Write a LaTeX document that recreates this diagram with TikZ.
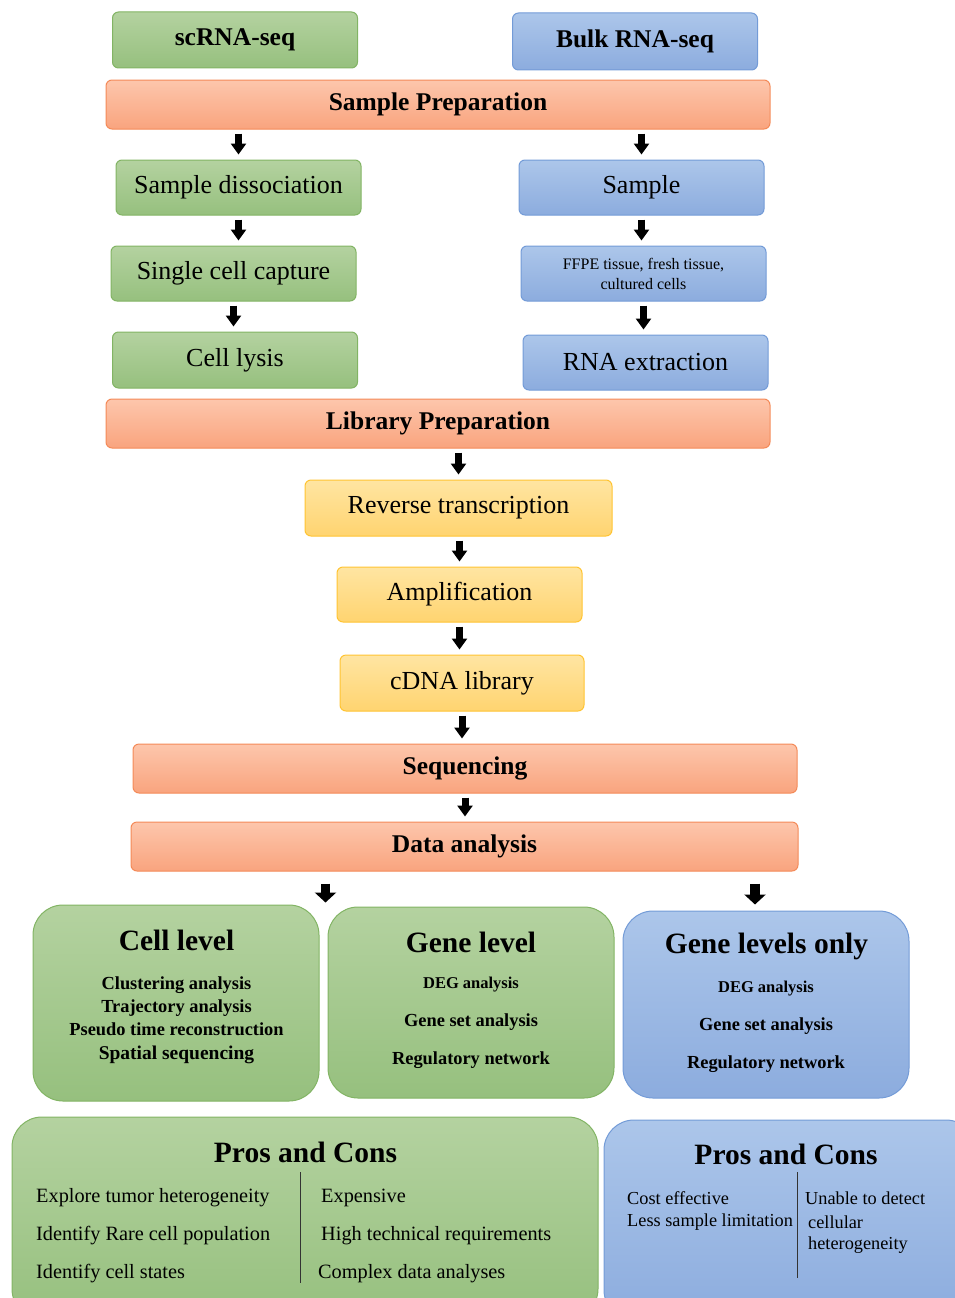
\documentclass[tikz,border=0pt]{standalone}
\usepackage{fontspec}
\setmainfont{Liberation Serif}
\usetikzlibrary{arrows.meta,positioning}

\definecolor{grtop}{RGB}{180,210,160}
\definecolor{grbot}{RGB}{150,192,126}
\definecolor{grline}{RGB}{130,180,100}
\definecolor{bltop}{RGB}{172,198,234}
\definecolor{blbot}{RGB}{140,172,222}
\definecolor{blline}{RGB}{115,155,215}
\definecolor{ortop}{RGB}{253,198,172}
\definecolor{orbot}{RGB}{249,164,126}
\definecolor{orline}{RGB}{244,138,88}
\definecolor{yetop}{RGB}{255,229,162}
\definecolor{yebot}{RGB}{255,212,112}
\definecolor{yeline}{RGB}{255,196,50}

\begin{document}
\begin{tikzpicture}[
  x=1pt,
  y=-1pt,
  box/.style={rounded corners=6pt, line width=1pt, align=center, inner sep=0pt,
    font=\fontsize{26}{30}\selectfont},
  scbox/.style={box, draw=grline, top color=grtop, bottom color=grbot,
    minimum width=245pt, minimum height=56pt},
  bkbox/.style={box, draw=blline, top color=bltop, bottom color=blbot,
    minimum width=245pt, minimum height=56pt},
  ybox/.style={box, draw=yeline, top color=yetop, bottom color=yebot,
    minimum width=245pt, minimum height=56pt},
  stage/.style={box, draw=orline, top color=ortop, bottom color=orbot,
    minimum width=664pt, minimum height=49pt, font=\bfseries\fontsize{25.5}{30}\selectfont},
  bigsc/.style={scbox, rounded corners=30pt, minimum width=286pt},
  bigbk/.style={bkbox, rounded corners=30pt, minimum width=286pt},
  head/.style={font=\bfseries\fontsize{29.5}{34}\selectfont},
  item/.style={font=\bfseries\fontsize{18.4}{23.3}\selectfont, align=center},
  small/.style={font=\bfseries\fontsize{16.5}{20}\selectfont},
  pro/.style={anchor=west, inner sep=0pt, font=\fontsize{20.3}{24}\selectfont},
  probk/.style={anchor=west, inner sep=0pt, font=\fontsize{18.3}{22}\selectfont},
  split/.style={line width=0.9pt, black!80},
  blk/.style={line width=7pt, -{Triangle[width=15pt,length=11pt]},
    shorten <=4pt, shorten >=5pt},
  bigblk/.style={line width=9.5pt, -{Triangle[width=21pt,length=10pt]},
    shorten <=12pt, shorten >=2pt}
]
\useasboundingbox (0,0) rectangle (955,1298);
\clip (0,0) rectangle (955,1298);

% top row
\node[scbox, font=\bfseries\fontsize{25.5}{30}\selectfont] (sc) at (235,40) {scRNA-seq};
\node[bkbox, font=\bfseries\fontsize{25.5}{30}\selectfont, minimum height=57pt] (bulk) at (635,41.5) {Bulk RNA-seq};
\node[stage] (sp) at (438,104.5) {Sample Preparation};

% scRNA-seq branch
\node[scbox, minimum height=55pt] (sd) at (238.5,187.5) {Sample dissociation};
\node[scbox, minimum height=55pt] (scc) at (233.5,273.5) {Single cell capture};
\node[scbox] (lys) at (235,360) {Cell lysis};

% bulk branch
\node[bkbox, minimum height=55pt] (smp) at (641.5,187.5) {Sample};
\node[bkbox, minimum height=55pt, font=\fontsize{16}{20}\selectfont] (ffpe) at (643.5,273.5)
  {FFPE tissue, fresh tissue,\\cultured cells};
\node[bkbox, minimum height=55pt] (rna) at (645.5,362.5) {RNA extraction};

\draw[blk] (sd.north |- sp.south) -- (sd.north);
\draw[blk] (smp.north |- sp.south) -- (smp.north);
\draw[blk] (sd.south) -- (sd.south |- scc.north);
\draw[blk] (smp.south) -- (smp.south |- ffpe.north);
\draw[blk] (scc.south) -- (scc.south |- lys.north);
\draw[blk] (ffpe.south) -- (ffpe.south |- rna.north);

% library
\node[stage] (lp) at (438,423.5) {Library Preparation};
\node[ybox, minimum width=307pt] (rt) at (458.5,508) {Reverse transcription};
\node[ybox, minimum height=55pt] (amp) at (459.5,594.5) {Amplification};
\node[ybox, minimum width=244pt] (cdna) at (462,683) {cDNA library};
\node[stage] (seq) at (465,768.5) {Sequencing};
\node[stage, minimum width=667pt] (da) at (464.5,846.5) {Data analysis};

\draw[blk] (rt.north |- lp.south) -- (rt.north);
\draw[blk] (amp.north |- rt.south) -- (amp.north);
\draw[blk] (amp.south) -- (amp.south |- cdna.north);
\draw[blk] (cdna.south) -- (cdna.south |- seq.north);
\draw[blk] (seq.south) -- (seq.south |- da.north);

% levels
\node[bigsc, minimum height=196pt] (cl) at (176,1003) {};
\node[bigsc, minimum height=191pt] (gl) at (471,1002.5) {};
\node[bigbk, minimum height=187pt] (go) at (766,1004.5) {};

\draw[bigblk] ([xshift=6pt]cl.north east |- da.south) -- ([xshift=6pt]cl.north east);
\draw[bigblk, shorten >=6pt] ([xshift=-11pt]go.north |- da.south) -- ([xshift=-11pt]go.north);

\node[head] (clt) at (176.5,940) {Cell level};
\node[item] (cli) at (176.5,1020) {Clustering analysis\\Trajectory analysis\\Pseudo time reconstruction\\{\fontsize{19.5}{23}\selectfont Spatial sequencing}};

\node[head] (glt) at (471,942) {Gene level};
\node[small] (gl1) at (471,985) {DEG analysis};
\node[item] (gl2) at (471,1022) {Gene set analysis};
\node[item] (gl3) at (471,1060) {Regulatory network};

\node[head] (got) at (766.5,946) {Gene levels only};
\node[small] (go1) at (766,989) {DEG analysis};
\node[item] (go2) at (766,1026) {Gene set analysis};
\node[item] (go3) at (766,1064) {Regulatory network};

% pros and cons
\node[bigsc, minimum width=586pt, minimum height=202pt] (pcs) at (305,1218) {};
\node[bigbk, minimum width=372pt, minimum height=200pt] (pcb) at (790,1220) {};

\node[head] (pcst) at (305.5,1152) {Pros and Cons};
\node[pro] (pl1) at (36,1198) {Explore tumor heterogeneity};
\node[pro] (pl2) at (36,1236) {Identify Rare cell population};
\node[pro] (pl3) at (36,1274) {Identify cell states};
\draw[split] (300,1172) -- (300,1283);
\node[pro] (pr1) at (321,1198) {Expensive};
\node[pro] (pr2) at (321,1236) {High technical requirements};
\node[pro] (pr3) at (318,1274) {Complex data analyses};

\node[head] (pcbt) at (786,1154) {Pros and Cons};
\node[probk] (bl1) at (627,1198) {Cost effective};
\node[probk] (bl2) at (627,1222) {Less sample limitation};
\draw[split] (797,1172) -- (797,1278);
\node[probk] (br1) at (805,1198) {Unable to detect};
\node[probk] (br2) at (808,1222) {cellular};
\node[probk] (br3) at (808,1245) {heterogeneity};
\end{tikzpicture}
\end{document}
